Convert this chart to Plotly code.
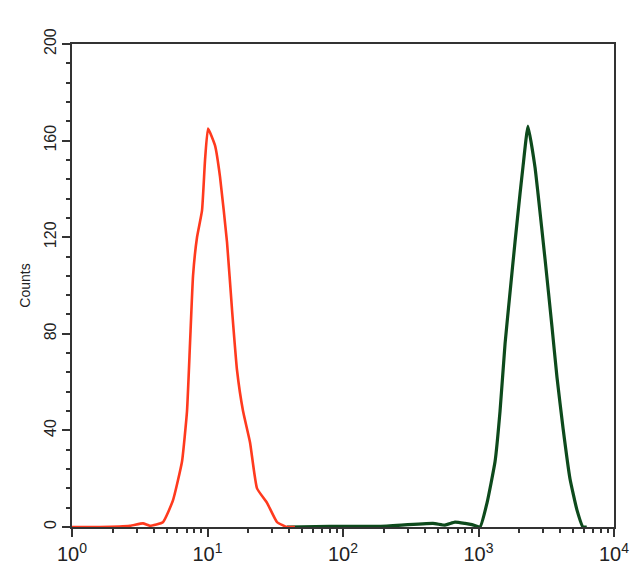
import plotly.graph_objects as go

# Red histogram (isotype / control)
red_x = [1.0, 1.61, 2.68, 3.34, 3.76, 4.69, 5.56, 6.48, 7.06, 7.43, 7.82, 8.37, 9.11, 9.59,
         10.09, 11.36, 12.37, 13.93, 15.17, 16.51, 18.29, 20.6, 23.2, 27.5, 32.6, 38.6, 44.2]
red_y = [0, 0, 0.5, 1.5, 0.5, 2, 11, 27, 48, 76, 104, 120, 131, 152,
         165, 158, 145, 118, 90, 65, 48, 35, 16, 10, 2, 0, 0]

# Green histogram (stained sample)
green_x = [38.6, 80, 187, 461, 566, 671, 795, 895, 1026, 1156, 1324, 1442, 1571, 1708, 1860,
           2025, 2128, 2318, 2612, 2750, 3097, 3485, 3795, 4205, 4733, 5333, 5906, 6300]
green_y = [0, 0.3, 0.3, 1.5, 0.8, 2, 1.5, 1, 0, 10, 27, 48, 76, 97, 118,
           138, 149, 166, 149, 138, 111, 83, 62, 41, 20, 7, 0, 0]

x_tickvals = [1, 10, 100, 1000, 10000]
x_ticktext = ["10<sup>0</sup>", "10<sup>1</sup>", "10<sup>2</sup>", "10<sup>3</sup>", "10<sup>4</sup>"]
y_tickvals = [0, 40, 80, 120, 160, 200]

fig = go.Figure()
fig.add_trace(go.Scatter(x=green_x, y=green_y, mode="lines",
                         line=dict(color="#0d4a1c", width=3.2, shape="spline", smoothing=0.4),
                         showlegend=False))
fig.add_trace(go.Scatter(x=red_x, y=red_y, mode="lines",
                         line=dict(color="#ff3a1e", width=2.6, shape="spline", smoothing=0.4),
                         showlegend=False))

fig.update_layout(
    width=632, height=569,
    margin=dict(l=64, r=26, t=36, b=50),
    paper_bgcolor="white", plot_bgcolor="white",
    font=dict(family="Liberation Sans, Arial, sans-serif", color="#222222"),
    xaxis=dict(type="log", range=[0, 4], showgrid=False, zeroline=False,
               showline=True, linecolor="#333333", linewidth=2, mirror=True,
               ticks="outside", ticklen=8, tickwidth=1.5, tickcolor="#333333",
               tickvals=x_tickvals, ticktext=x_ticktext, tickfont=dict(size=20),
               minor=dict(ticks="outside", ticklen=4, tickwidth=2, tickcolor="#333333",
                          tickvals=[m * 10 ** d for d in range(4) for m in range(2, 10)])),
    yaxis=dict(range=[0, 200], showgrid=False, zeroline=False,
               showline=True, linecolor="#333333", linewidth=2, mirror=True,
               ticks="outside", ticklen=8, tickwidth=1.5, tickcolor="#333333",
               tickvals=y_tickvals, tickangle=-90, tickfont=dict(size=16),
               minor=dict(ticks="outside", ticklen=4, tickwidth=2, tickcolor="#333333", dtick=8),
               title=dict(text="Counts", font=dict(size=14), standoff=8)),
)

fig.write_html("out.html")
